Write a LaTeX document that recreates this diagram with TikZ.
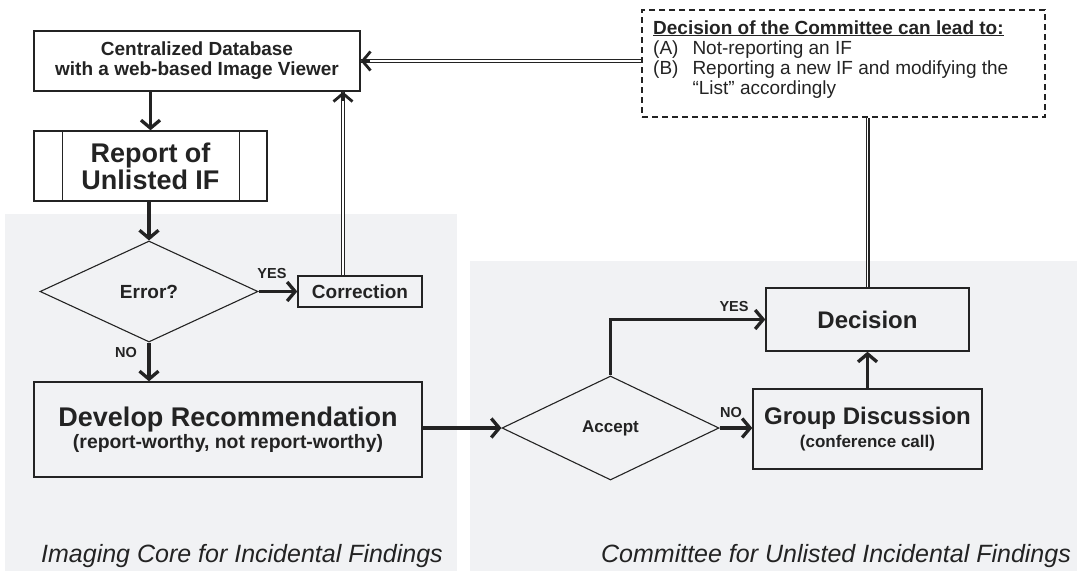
\documentclass[tikz,border=0pt]{standalone}
\usepackage{fontspec}
\setmainfont{Liberation Sans}
\usetikzlibrary{arrows.meta,shapes.geometric,calc}
\definecolor{panel}{RGB}{241,242,244}
\definecolor{ink}{RGB}{35,35,35}
\begin{document}
\begin{tikzpicture}[x=1pt,y=-1pt,
  box/.style={draw=ink, line width=1.4pt, inner sep=0pt, align=center, text=ink},
  dia/.style={diamond, draw=ink, line width=1.1pt, inner sep=0pt, text=ink},
  lab/.style={text=ink, inner sep=0pt, font=\bfseries\fontsize{14.5}{16}\selectfont},
  arr/.style={draw=ink, line width=3.3pt, line join=miter, -{Straight Barb[length=8pt,width=19pt]}},
  dbl/.style={draw=ink, double=white, double distance=1.8pt, line width=1.1pt},
  dbltip/.style={draw=ink, line width=2.8pt, -{Straight Barb[length=8pt,width=19pt]}},
  dashbox/.style={draw=ink, line width=2.8pt, dash pattern=on 6pt off 4pt, inner sep=0pt},
  region/.style={text=ink, inner sep=0pt, font=\itshape\fontsize{25}{30}\selectfont}
]
\useasboundingbox (0,0) rectangle (1079,571);
\fill[panel] (5,214) rectangle (457,571);
\fill[panel] (470,261) rectangle (1077,571);

% nodes
\node[box, minimum width=326pt, minimum height=60pt, font=\bfseries\fontsize{19}{20}\selectfont] (db) at (197,61) {Centralized Database\\with a web-based Image Viewer};
\node[box, minimum width=233pt, minimum height=70pt, font=\bfseries\fontsize{27}{27}\selectfont] (rep) at (150.5,166) {Report of\\Unlisted IF};
\draw[ink, line width=1.4pt] ([xshift=29pt]rep.north west) -- ([xshift=29pt]rep.south west);
\draw[ink, line width=1.4pt] ([xshift=-28pt]rep.north east) -- ([xshift=-28pt]rep.south east);
\node[dia, minimum width=218pt, minimum height=101pt, font=\bfseries\fontsize{19}{21}\selectfont] (err) at (149,291.5) {Error?};
\node[box, minimum width=124pt, minimum height=31pt, font=\bfseries\fontsize{19}{21}\selectfont] (corr) at (360,291.5) {Correction};
\node[box, minimum width=388pt, minimum height=95pt, font=\bfseries\fontsize{19.4}{22.3}\selectfont] (dev) at (228,429.5) {{\fontsize{27}{22.3}\selectfont Develop Recommendation}\\(report-worthy, not report-worthy)};
\node[dia, minimum width=217pt, minimum height=104pt, font=\bfseries\fontsize{17}{20}\selectfont] (acc) at (610.5,428) {Accept};
\node[box, minimum width=203pt, minimum height=63pt, font=\bfseries\fontsize{24}{26}\selectfont] (dec) at (867.5,319.5) {Decision};
\node[box, minimum width=229pt, minimum height=80pt, font=\bfseries\fontsize{17}{23.5}\selectfont] (grp) at (867.5,429) {{\fontsize{24}{23.5}\selectfont Group Discussion}\\(conference call)};
\node[dashbox, minimum width=403pt, minimum height=107pt] (dash) at (843.5,63.5) {};
\node[anchor=north west, inner sep=0pt, text=ink, font=\fontsize{19}{20.3}\selectfont] (dtxt) at (653,19.6) {%
  \begin{tabular}{@{}l@{\hspace{14pt}}l@{}}
  \multicolumn{2}{@{}l@{}}{\bfseries\underline{Decision of the Committee can lead to:}}\\
  (A) & Not-reporting an IF\\
  (B) & Reporting a new IF and modifying the\\
      & “List” accordingly
  \end{tabular}};

% labels
\node[lab] (yes1) at (272,274) {YES};
\node[lab] (no1) at (126,353) {NO};
\node[lab] (yes2) at (734,307) {YES};
\node[lab] (no2) at (731,413) {NO};
\node[region, anchor=base] (r1) at (242,562) {Imaging Core for Incidental Findings};
\node[region, anchor=base] (r2) at (836,562) {Committee for Unlisted Incidental Findings};

% connectors
\draw[arr] (rep.north |- db.south) -- (rep.north);
\draw[arr] (err.north |- rep.south) -- (err.north);
\draw[arr] (err.east) -- (corr.west);
\draw[arr] (err.south) -- (err.south |- dev.north);
\draw[arr] (dev.east |- acc.west) -- (acc.west);
\draw[arr] (acc.north) |- (dec.west);
\draw[arr] (acc.east) -- (acc.east -| grp.west);
\draw[arr] (grp.north) -- (dec.south);

\coordinate (cu) at ([xshift=-17pt]corr.north);
\draw[dbl] (cu) -- (cu |- db.south);
\draw[dbltip] ($(cu |- db.south)+(0,9)$) -- (cu |- db.south);
\draw[dbl] (dec.north) -- (dec.north |- dash.south);
\draw[dbl] (dash.west |- db.east) -- (db.east);
\draw[dbltip] ($(db.east)+(9,0)$) -- (db.east);
\end{tikzpicture}
\end{document}
